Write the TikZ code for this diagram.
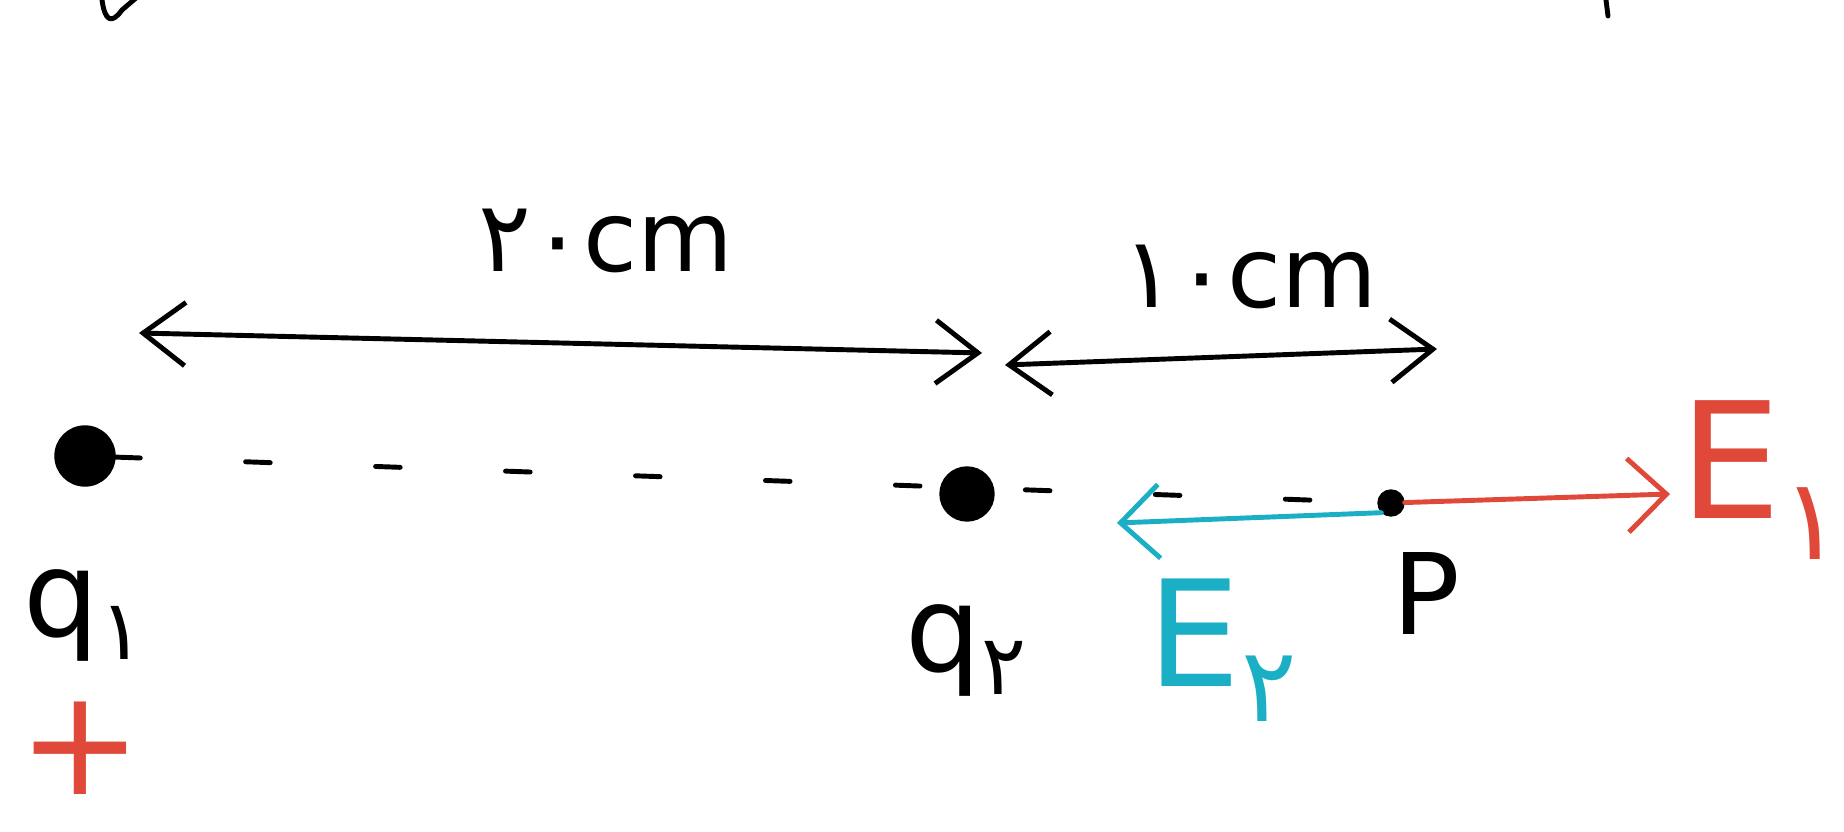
\documentclass[tikz,border=0pt]{standalone}
\usepackage{fontspec}
\setmainfont{DejaVu Sans}
\newfontfamily\persianfont[Script=Arabic]{DejaVu Sans}
\definecolor{myred}{HTML}{E0483A}
\definecolor{mycyan}{HTML}{1BAFC6}
\usetikzlibrary{arrows.meta}
\tikzset{
	chargenode/.style={
			circle,
			draw=black,
			fill=black,
			minimum size=6mm,
			inner sep=0pt
		},
	pointnode/.style={
			chargenode,
			minimum size=2.6mm
		},
	labelnode/.style={
			inner sep=0pt,
			text=black
		},
	handline/.style={
			line width=1.4pt,
			line cap=round,
			line join=round
		},
	dimarrow/.style={
			handline,
			{Straight Barb[length=12pt,width=18pt]}-{Straight Barb[length=12pt,width=18pt]}
		},
	fieldarrow/.style={
			handline,
			-{Straight Barb[length=11pt,width=21pt]}
		}
}

\begin{document}
\begin{tikzpicture}
\useasboundingbox (0,0) rectangle (18.44,-8.32);
    \node[chargenode] (q1) at (0.85,-4.56) {};
    \node[chargenode, minimum size=5.4mm] (q2) at (9.67,-4.94) {};
    \node[pointnode] (p) at (13.91,-5.03) {};

    \coordinate (d1l) at (1.39,-3.33);
    \coordinate (d1r) at (9.82,-3.53);
    \coordinate (d2l) at (10.05,-3.65);
    \coordinate (d2r) at (14.37,-3.49);
    \coordinate (e1end) at (16.70,-4.94);
    \coordinate (e2end) at (11.17,-5.23);

    \node[labelnode, font=\fontsize{28}{30}\selectfont] (l20) at (6.06,-2.41) {{\persianfont ۲۰}cm};
    \node[labelnode, font=\fontsize{28}{30}\selectfont] (l10) at (12.50,-2.77) {{\persianfont ۱۰}cm};
    \node[labelnode, font=\fontsize{34}{36}\selectfont] (lq1) at (0.85,-6.15) {q\textsubscript{\persianfont ۱}};
    \node[labelnode, font=\fontsize{34}{36}\selectfont] (lq2) at (9.67,-6.50) {q\textsubscript{\persianfont ۲}};
    \node[labelnode, font=\fontsize{32}{34}\selectfont] (lp) at (14.26,-5.94) {P};
    \node[labelnode, text=myred, font=\fontsize{46}{48}\selectfont] (le1) at (17.62,-4.80) {E\textsubscript{\persianfont ۱}};
    \node[labelnode, text=mycyan, font=\fontsize{42}{44}\selectfont] (le2) at (12.23,-6.50) {E\textsubscript{\persianfont ۲}};
    \node[labelnode, text=myred, font=\fontsize{42}{44}\selectfont] (plus) at (0.80,-7.48) {+};

    \draw[handline, dash pattern=on 7pt off 30pt] (q1) -- (p);
    \draw[dimarrow] (d1l) -- (d1r);
    \draw[dimarrow] (d2l) -- (d2r);
    \draw[fieldarrow, myred] (p) -- (e1end);
    \draw[fieldarrow, mycyan] (p.south west) -- (e2end);

    % bits of writing cut off at the top
    \draw[handline] (1.02,0) .. controls (1.05,-0.22) and (1.12,-0.24) .. (1.22,-0.1) -- (1.36,0.02);
    \draw[handline] (16.06,0) -- (16.08,-0.16);
\end{tikzpicture}
\end{document}
